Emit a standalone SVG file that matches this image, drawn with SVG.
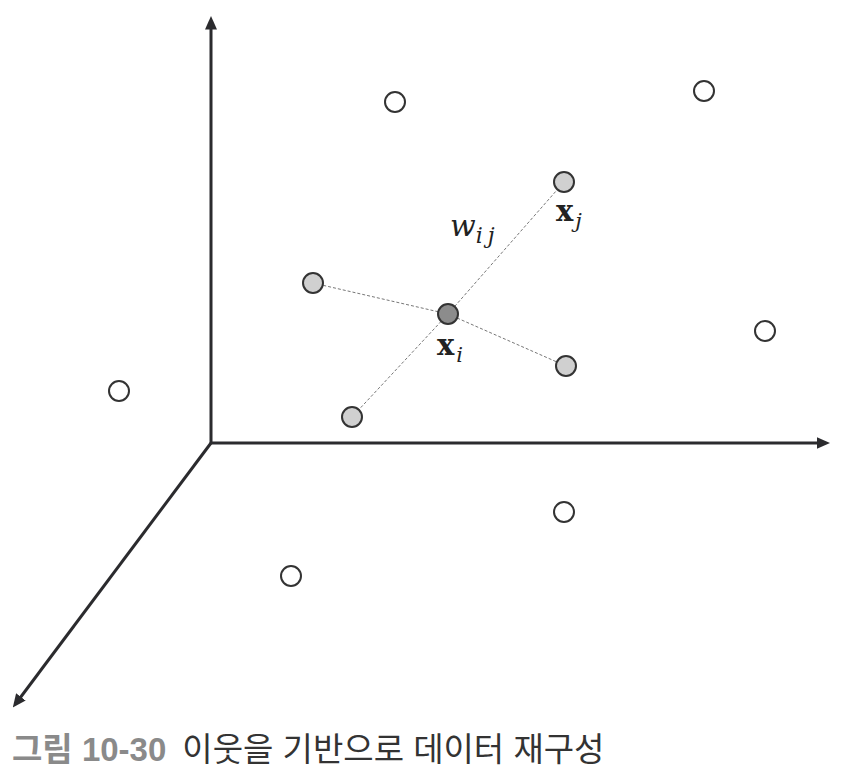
<svg xmlns="http://www.w3.org/2000/svg" width="848" height="778" viewBox="0 0 848 778">
<style>
.ax{stroke:#2b2b2e;stroke-width:3;fill:none}
.ds{stroke:#777;stroke-width:1;stroke-dasharray:3,2;fill:none}
.o{fill:#fff;stroke:#333;stroke-width:2}
.g{fill:#d0d0d0;stroke:#333;stroke-width:2}
.d{fill:#8c8c8c;stroke:#333;stroke-width:2}
.m{font-family:"DejaVu Serif","Liberation Serif",serif;fill:#222}
.cap{font-family:"Liberation Sans","Noto Sans CJK KR",sans-serif;font-size:33px}
</style>
<defs>
<marker id="ah" markerWidth="4.5" markerHeight="4" refX="0.5" refY="2" orient="auto" markerUnits="strokeWidth">
<path d="M0,0 L4.5,2 L0,4 Z" fill="#2b2b2e"/>
</marker>
</defs>
<g id="axes">
<line class="ax" x1="211" y1="443" x2="211" y2="28" marker-end="url(#ah)"/>
<line class="ax" x1="211" y1="443" x2="818" y2="443" marker-end="url(#ah)"/>
<line class="ax" x1="211" y1="443" x2="20" y2="698" marker-end="url(#ah)"/>
</g>
<g id="connectors">
<line class="ds" x1="448" y1="314" x2="564" y2="182"/>
<line class="ds" x1="448" y1="314" x2="313" y2="283"/>
<line class="ds" x1="448" y1="314" x2="566" y2="366"/>
<line class="ds" x1="448" y1="314" x2="352" y2="417"/>
</g>
<g id="open-nodes">
<circle class="o" cx="395" cy="102" r="10"/>
<circle class="o" cx="704" cy="91" r="10"/>
<circle class="o" cx="765" cy="331" r="10"/>
<circle class="o" cx="119" cy="391" r="10"/>
<circle class="o" cx="564" cy="512" r="10"/>
<circle class="o" cx="291" cy="576" r="10"/>
</g>
<g id="neighbors">
<circle id="xj" class="g" cx="564" cy="182" r="10"/>
<circle class="g" cx="313" cy="283" r="10"/>
<circle class="g" cx="566" cy="366" r="10"/>
<circle class="g" cx="352" cy="417" r="10"/>
</g>
<g id="xi">
<circle class="d" cx="448" cy="314" r="10"/>
</g>
<g id="labels">
<text class="m" x="556" y="221" font-size="29" font-weight="bold">x<tspan font-size="21" font-weight="normal" font-style="italic" dx="2" dy="7">j</tspan></text>
<text class="m" x="437" y="355" font-size="29" font-weight="bold">x<tspan font-size="21" font-weight="normal" font-style="italic" dx="2" dy="7">i</tspan></text>
<text class="m" x="450" y="236" font-size="30" font-style="italic">w<tspan font-size="22" dy="7" letter-spacing="5">ij</tspan></text>
</g>
<g id="caption">
<text class="cap" x="12" y="761"><tspan fill="#8a8a8a" font-weight="bold">그림 10-30</tspan><tspan fill="#333" dx="16">이웃을 기반으로 데이터 재구성</tspan></text>
</g>
</svg>
